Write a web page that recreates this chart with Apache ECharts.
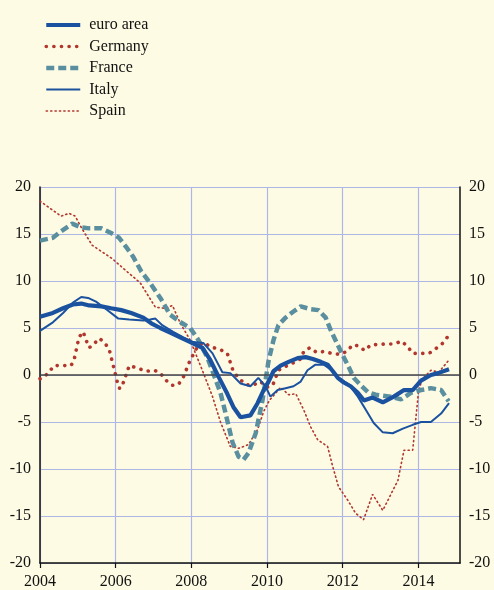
<!DOCTYPE html>
<html>
<head>
<meta charset="utf-8">
<script src="https://cdn.jsdelivr.net/npm/echarts@6/dist/echarts.min.js"></script>
<style>
  html, body { margin: 0; padding: 0; background: #FEFBE4; }
  #chart { width: 494px; height: 590px; }
</style>
</head>
<body>
<div id="chart"></div>
<script>
// Data: [year, % change]
const seriesNames = ['euro area', 'Germany', 'France', 'Italy', 'Spain'];
const yearTicks = [2004, 2006, 2008, 2010, 2012, 2014];

const euroArea = [
  [2004.00, 6.2], [2004.34, 6.6], [2004.61, 7.1], [2004.87, 7.5], [2005.09, 7.6],
  [2005.30, 7.4], [2005.62, 7.3], [2005.88, 7.1], [2006.15, 6.9], [2006.41, 6.6],
  [2006.73, 6.1], [2006.94, 5.5], [2007.18, 5.0], [2007.44, 4.5], [2007.76, 3.9],
  [2008.03, 3.4], [2008.29, 2.9], [2008.50, 1.6], [2008.72, -0.2], [2008.95, -2.0],
  [2009.11, -3.4], [2009.30, -4.5], [2009.56, -4.3], [2009.75, -3.0], [2009.91, -1.6],
  [2010.04, -0.7], [2010.17, 0.4], [2010.36, 1.0], [2010.57, 1.4], [2010.81, 1.8],
  [2011.02, 1.9], [2011.21, 1.7], [2011.42, 1.4], [2011.60, 1.1], [2011.74, 0.4],
  [2011.87, -0.3], [2012.03, -0.8], [2012.21, -1.2], [2012.40, -1.9], [2012.56, -2.7],
  [2012.79, -2.4], [2013.06, -2.9], [2013.35, -2.3], [2013.62, -1.6], [2013.85, -1.6],
  [2014.07, -0.6], [2014.33, 0.0], [2014.52, 0.2], [2014.81, 0.6]
];

const germany = [
  [2004.00, -0.4], [2004.08, -0.3], [2004.24, 0.3], [2004.37, 1.0], [2004.82, 1.0],
  [2004.90, 1.6], [2005.03, 4.0], [2005.14, 4.6], [2005.22, 3.7], [2005.30, 2.9],
  [2005.43, 3.3], [2005.56, 3.9], [2005.70, 3.5], [2005.83, 2.7], [2005.93, 1.1],
  [2006.04, -0.7], [2006.09, -1.4], [2006.15, -1.4], [2006.22, -0.6], [2006.36, 1.0],
  [2006.60, 0.7], [2006.81, 0.4], [2007.02, 0.5], [2007.18, 0.2], [2007.31, -0.5],
  [2007.50, -1.1], [2007.66, -1.0], [2007.79, -0.2], [2007.95, 1.4], [2008.16, 3.0],
  [2008.32, 3.5], [2008.50, 3.0], [2008.77, 2.7], [2008.95, 2.3], [2009.09, 0.6],
  [2009.22, -0.2], [2009.43, -1.0], [2009.62, -1.1], [2009.83, -0.7], [2009.99, -1.3],
  [2010.15, -1.1], [2010.30, 0.5], [2010.49, 0.9], [2010.70, 1.3], [2010.89, 1.7],
  [2010.97, 2.5], [2011.13, 2.9], [2011.31, 2.4], [2011.50, 2.5], [2011.71, 2.3],
  [2011.92, 2.2], [2012.11, 2.5], [2012.26, 3.2], [2012.42, 3.1], [2012.58, 2.6],
  [2012.74, 3.2], [2013.14, 3.3], [2013.35, 3.3], [2013.56, 3.6], [2013.72, 3.0],
  [2013.85, 2.3], [2014.28, 2.3], [2014.46, 2.8], [2014.65, 3.4], [2014.78, 4.1]
];

const france = [
  [2004.00, 14.3], [2004.34, 14.6], [2004.56, 15.3], [2004.85, 16.1], [2005.09, 15.7],
  [2005.30, 15.6], [2005.62, 15.6], [2005.88, 15.1], [2006.09, 14.6], [2006.28, 13.6],
  [2006.46, 12.6], [2006.68, 11.0], [2006.89, 9.9], [2007.18, 8.2], [2007.44, 6.4],
  [2007.76, 5.5], [2007.97, 5.0], [2008.19, 3.7], [2008.42, 1.9], [2008.58, 0.2],
  [2008.77, -1.9], [2008.90, -4.0], [2009.09, -7.2], [2009.25, -8.7], [2009.38, -9.0],
  [2009.51, -8.3], [2009.70, -6.2], [2009.88, -2.7], [2010.04, 1.5], [2010.17, 3.7],
  [2010.30, 5.3], [2010.49, 6.1], [2010.68, 6.7], [2010.89, 7.3], [2011.15, 7.0],
  [2011.36, 6.9], [2011.55, 6.1], [2011.68, 4.8], [2011.81, 3.7], [2012.00, 2.1],
  [2012.13, 1.1], [2012.29, -0.3], [2012.48, -1.1], [2012.66, -1.8], [2012.87, -2.1],
  [2013.27, -2.3], [2013.54, -2.6], [2013.80, -1.9], [2014.07, -1.6], [2014.33, -1.4],
  [2014.60, -1.6], [2014.80, -2.8]
];

const italy = [
  [2004.00, 4.7], [2004.34, 5.6], [2004.61, 6.6], [2004.87, 7.7], [2005.09, 8.3],
  [2005.27, 8.2], [2005.48, 7.8], [2005.75, 7.0], [2006.07, 6.0], [2006.36, 5.9],
  [2006.73, 5.8], [2006.91, 5.9], [2007.05, 6.0], [2007.23, 5.3], [2007.52, 4.6],
  [2007.79, 4.0], [2008.05, 3.5], [2008.32, 3.4], [2008.56, 2.3], [2008.82, 0.3],
  [2009.03, 0.2], [2009.30, -0.9], [2009.56, -1.2], [2009.77, -0.3], [2009.96, -1.2],
  [2010.09, -2.3], [2010.28, -1.6], [2010.49, -1.4], [2010.70, -1.2], [2010.89, -0.7],
  [2011.07, 0.5], [2011.28, 1.1], [2011.50, 1.1], [2011.68, 0.6], [2011.89, -0.3],
  [2012.16, -1.0], [2012.40, -2.3], [2012.61, -3.7], [2012.82, -5.1], [2013.06, -6.1],
  [2013.32, -6.2], [2013.59, -5.7], [2013.85, -5.3], [2014.07, -5.0], [2014.33, -5.0],
  [2014.60, -4.1], [2014.81, -3.0]
];

const spain = [
  [2004.00, 18.5], [2004.24, 17.8], [2004.56, 16.9], [2004.77, 17.2], [2004.93, 16.9],
  [2005.09, 15.7], [2005.38, 13.8], [2005.90, 12.4], [2006.30, 11.0], [2006.65, 9.8],
  [2007.05, 7.2], [2007.31, 7.1], [2007.50, 7.4], [2007.71, 5.5], [2007.97, 3.7],
  [2008.32, 0.2], [2008.56, -2.3], [2008.77, -5.0], [2009.03, -7.6], [2009.25, -7.8],
  [2009.51, -7.4], [2009.75, -5.8], [2009.91, -3.9], [2010.06, -2.7], [2010.15, -2.3],
  [2010.36, -1.3], [2010.57, -2.1], [2010.76, -2.0], [2010.97, -3.7], [2011.15, -5.5],
  [2011.34, -6.9], [2011.60, -7.6], [2011.74, -9.8], [2011.89, -11.9], [2012.13, -13.3],
  [2012.34, -14.7], [2012.55, -15.4], [2012.79, -12.7], [2013.06, -14.4], [2013.46, -11.2],
  [2013.62, -8.0], [2013.85, -8.0], [2014.00, -1.9], [2014.09, -0.5], [2014.33, 0.5],
  [2014.54, 0.3], [2014.81, 1.6]
];

const FONT = '"Liberation Serif", "DejaVu Serif", serif';
const BLUE = '#1A52A0';
const RED = '#B0362E';
const TEAL = '#5A8FA0';

const chart = echarts.init(document.getElementById('chart'), null, { renderer: 'canvas' });

const yAxisCommon = {
  type: 'value', min: -20, max: 20, interval: 5,
  axisLine: { show: true, lineStyle: { color: '#111', width: 1.5 } },
  axisTick: { show: false },
  axisLabel: { color: '#111', fontFamily: FONT, fontSize: 16, margin: 9 }
};

chart.setOption({
  backgroundColor: '#FEFBE4',
  animation: false,
  legend: {
    orient: 'vertical', left: 39, top: 12,
    itemWidth: 34, itemHeight: 14, itemGap: 5.5,
    data: seriesNames,
    itemStyle: { opacity: 0 },
    lineStyle: { width: 'inherit' },
    textStyle: { fontFamily: FONT, fontSize: 16, color: '#111', padding: [0, 0, 0, 4] }
  },
  grid: { left: 40, right: 34, top: 187, bottom: 27, containLabel: false },
  xAxis: {
    type: 'value', min: 2004, max: 2015.1,
    axisLine: { show: true, onZero: false, lineStyle: { color: '#111', width: 1.5 } },
    axisTick: { show: true, customValues: yearTicks, length: 5, lineStyle: { color: '#111', width: 1.2 } },
    axisLabel: { customValues: yearTicks, color: '#111', fontFamily: FONT, fontSize: 16, margin: 11,
      formatter: v => String(Math.round(v)) },
    splitLine: { show: true, lineStyle: { color: '#AEB6E6', width: 1.2 } }
  },
  yAxis: [
    Object.assign({}, yAxisCommon, { position: 'left',
      splitLine: { show: true, lineStyle: { color: '#AEB6E6', width: 1.2 } } }),
    Object.assign({}, yAxisCommon, { position: 'right', splitLine: { show: false } })
  ],
  series: [
    { name: 'Spain', type: 'line', data: spain, symbol: 'none', z: 2,
      lineStyle: { color: RED, width: 1.6, type: [1.2, 3.2], cap: 'round' }, itemStyle: { color: RED } },
    { name: 'France', type: 'line', data: france, symbol: 'none', z: 3,
      lineStyle: { color: TEAL, width: 4.5, type: [8, 4] }, itemStyle: { color: TEAL } },
    { name: 'Germany', type: 'line', data: germany, symbol: 'none', z: 4,
      lineStyle: { color: RED, width: 3.6, type: [0.1, 7.5], cap: 'round' }, itemStyle: { color: RED } },
    { name: 'Italy', type: 'line', data: italy, symbol: 'none', z: 5,
      lineStyle: { color: BLUE, width: 2 }, itemStyle: { color: BLUE } },
    { name: 'euro area', type: 'line', data: euroArea, symbol: 'none', z: 6,
      lineStyle: { color: BLUE, width: 4.2 }, itemStyle: { color: BLUE },
      markLine: { silent: true, symbol: 'none', label: { show: false },
        lineStyle: { color: '#444', width: 1.5, type: 'solid' },
        data: [{ yAxis: 0 }] } }
  ]
});
</script>
</body>
</html>
